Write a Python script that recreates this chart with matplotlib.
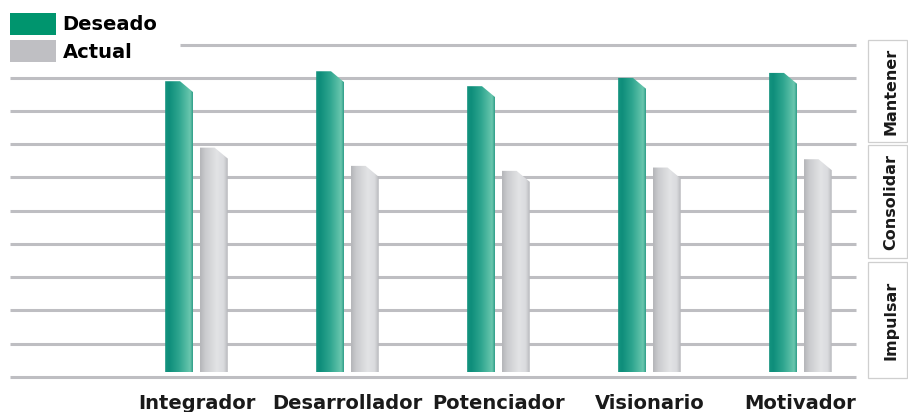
import numpy as np
import matplotlib
matplotlib.use("Agg")
import matplotlib.pyplot as plt
from matplotlib.colors import LinearSegmentedColormap
from matplotlib.patches import Polygon, Rectangle, Patch

# Data
categories = ["Integrador", "Desarrollador", "Potenciador", "Visionario", "Motivador"]
deseado = [8.9, 9.2, 8.75, 9.0, 9.15]
actual = [6.9, 6.35, 6.2, 6.3, 6.55]
series_labels = ["Deseado", "Actual"]
stage_labels = ["Mantener", "Consolidar", "Impulsar"]

FONT = "DejaVu Sans"
W, H = 908, 412
fig = plt.figure(figsize=(W / 100, H / 100), dpi=100)
fig.patch.set_facecolor("white")

ax = fig.add_axes([10 / W, 1 - 376.7 / H, 846 / W, 332 / H])
ax.set_xlim(-1.235, 4.368)
ax.set_ylim(0, 10)
ax.axis("off")

# Horizontal guide lines
grid_color = "#BEBEC2"
for v in range(0, 11):
    xmin = (180 - 10) / 846 if v == 10 else 0
    ax.axhline(v, xmin=xmin, xmax=1, color=grid_color, lw=2.2, zorder=1,
               clip_on=False, solid_capstyle="butt")

green_cmap = LinearSegmentedColormap.from_list(
    "green_cyl",
    [(0.0, "#15937F"), (0.15, "#0E8E7B"), (0.5, "#2EA58F"),
     (0.8, "#5ABEA6"), (0.9, "#6AC6AE"), (1.0, "#2E9E88")])
gray_cmap = LinearSegmentedColormap.from_list(
    "gray_cyl",
    [(0.0, "#B4B5B9"), (0.2, "#CBCCCF"), (0.6, "#E2E3E5"),
     (0.85, "#DADBDE"), (1.0, "#B6B7BB")])

bar_w = 0.1854
gap = 0.0437
base = 0.14
drop = 0.33
flat = 0.53


def cylinder_bar(x0, top, cmap):
    verts = [(x0, base), (x0, top), (x0 + flat * bar_w, top),
             (x0 + bar_w, top - drop), (x0 + bar_w, base)]
    poly = Polygon(verts, closed=True, facecolor="none", edgecolor="none")
    ax.add_patch(poly)
    grad = np.linspace(0, 1, 256).reshape(1, -1)
    im = ax.imshow(grad, cmap=cmap, extent=[x0, x0 + bar_w, base, top],
                   aspect="auto", origin="lower", zorder=3,
                   interpolation="bilinear")
    im.set_clip_path(poly)


for i, (d, a) in enumerate(zip(deseado, actual)):
    cylinder_bar(i - gap / 2 - bar_w, d, green_cmap)
    cylinder_bar(i + gap / 2, a, gray_cmap)
    ax.text(i, -0.8, categories[i], ha="center", va="center",
            fontsize=14, fontweight="bold", family=FONT, color="#1A1A1A",
            clip_on=False)

ax.set_xlim(-1.235, 4.368)
ax.set_ylim(0, 10)

# Legend
handles = [Patch(facecolor="#00956E", edgecolor="none"),
           Patch(facecolor="#BFBFC3", edgecolor="none")]
fig.legend(handles, series_labels, loc="upper left",
           bbox_to_anchor=(10 / W, 1 - 12.7 / H), bbox_transform=fig.transFigure,
           frameon=False, borderpad=0, borderaxespad=0,
           handlelength=2.35, handleheight=1.4, handletextpad=0.35,
           labelspacing=0.25,
           prop={"family": FONT, "weight": "bold", "size": 14})

# Stage boxes on the right
boxes = [(40, 142), (145, 258), (262, 378)]
for (y0, y1), label in zip(boxes, stage_labels):
    fig.patches.append(Rectangle((868 / W, 1 - y1 / H), 39 / W, (y1 - y0) / H,
                                 transform=fig.transFigure, facecolor="white",
                                 edgecolor="#CFCFCF", lw=0.9))
    fig.text(891 / W, 1 - (y0 + y1) / 2 / H, label, rotation=90,
             ha="center", va="center", fontsize=11.5, fontweight="bold",
             family=FONT, color="#1A1A1A")

fig.savefig("out.png", dpi=100, facecolor="white")
